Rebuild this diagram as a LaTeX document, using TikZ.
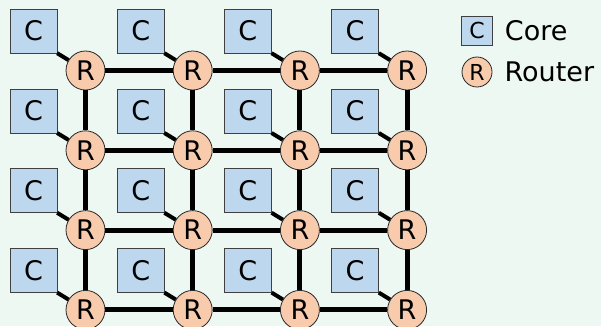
\documentclass[tikz,border=0pt]{standalone}
\usepackage{fontspec}
\setmainfont{DejaVu Sans}
\usetikzlibrary{positioning}
\definecolor{bgcolor}{RGB}{238,248,242}
\definecolor{corecolor}{RGB}{189,215,238}
\definecolor{routercolor}{RGB}{248,203,173}

\begin{document}
\begin{tikzpicture}[
    x=1pt, y=-1pt,
    core/.style={draw=black!75, fill=corecolor, minimum width=47pt, minimum height=44pt, inner sep=0pt, font=\fontsize{27}{27}\selectfont},
    router/.style={circle, draw=black!85, line width=0.8pt, fill=routercolor, minimum size=39pt, inner sep=0pt, font=\fontsize{27}{27}\selectfont},
    mesh/.style={line width=5pt},
    link/.style={line width=4pt},
    legend/.style={inner sep=0pt, font=\fontsize{27}{27}\selectfont}
]
    \fill[bgcolor] (0,0) rectangle (601,326);
    \clip (0,0) rectangle (601,326);

    % tiles: one core and its router
    \foreach \i in {0,...,3} {
        \foreach \j in {0,...,3} {
            \node[core] (c-\i-\j) at ({33.5+107.2*\i},{31+79.8*\j}) {C};
            \node[router] (r-\i-\j) at ({85.5+107.2*\i},{70.5+79.8*\j}) {R};
            \draw[link] (c-\i-\j.south east) -- (r-\i-\j);
        }
    }

    % mesh links
    \foreach \i in {0,...,3} {
        \foreach \j in {0,...,2} {
            \pgfmathtruncatemacro{\k}{\j+1}
            \draw[mesh] (r-\j-\i) -- (r-\k-\i);
            \draw[mesh] (r-\i-\j) -- (r-\i-\k);
        }
    }

    % legend
    \node[core, minimum width=31pt, minimum height=29pt, font=\fontsize{22}{22}\selectfont] (legcore) at (477,30.5) {C};
    \node[legend, right=12pt of legcore] (legcoretext) {Core};
    \node[router, minimum size=30pt, font=\fontsize{22}{22}\selectfont] (legrouter) at (477,72) {R};
    \node[legend, right=12pt of legrouter] (legroutertext) {Router};
\end{tikzpicture}
\end{document}
